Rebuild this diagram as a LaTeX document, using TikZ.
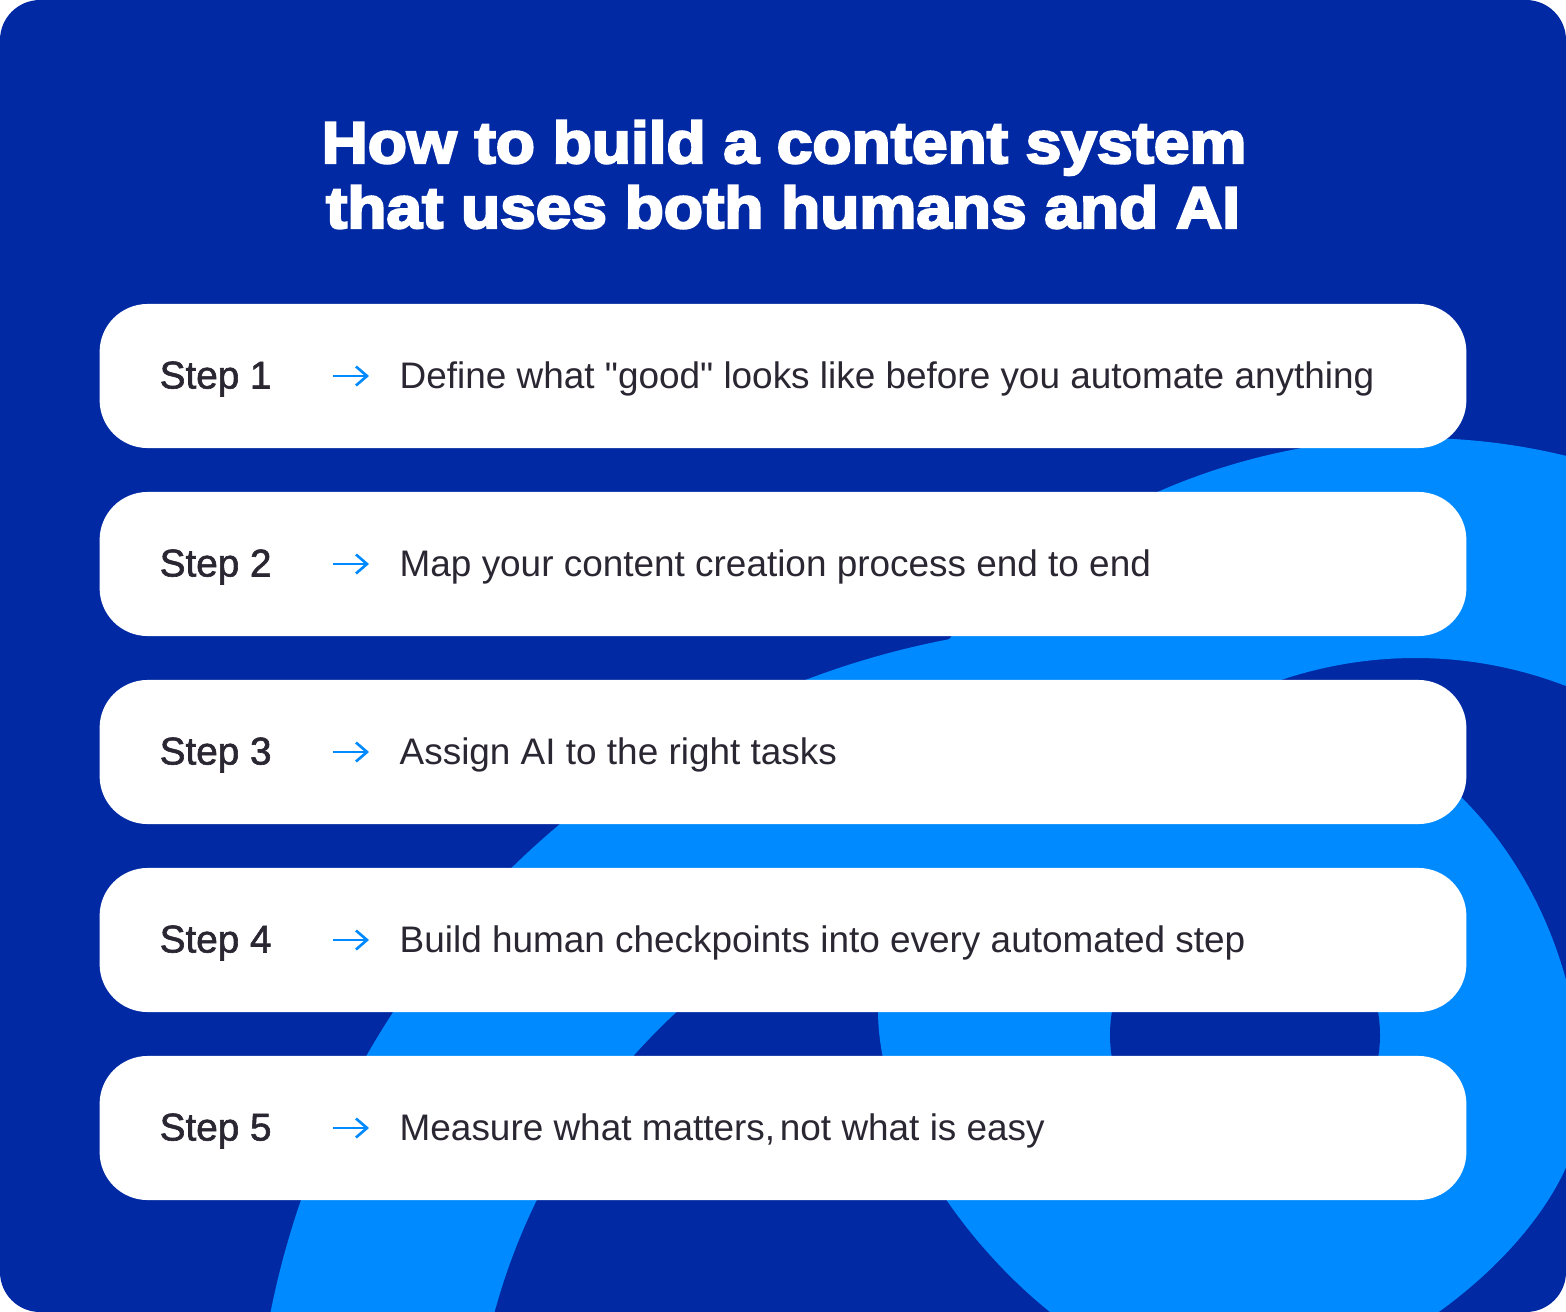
\documentclass[tikz,border=0pt]{standalone}
\usepackage{fontspec}
\setmainfont{Liberation Sans}
\newfontfamily\titlefont[FakeBold=4,FakeStretch=1.09]{Liberation Sans Bold}
\newfontfamily\labelfont[FakeBold=1.6]{Liberation Sans}
\usepackage{tikz}
\usetikzlibrary{arrows.meta}
\usepackage{xcolor}
\definecolor{navy}{RGB}{0,41,163}
\definecolor{sky}{RGB}{0,138,255}
\definecolor{ink}{RGB}{42,38,50}

\tikzset{
    stepbox/.style={fill=white, rounded corners=0.48cm, minimum width=13.66cm,
        minimum height=1.44cm, inner sep=0pt},
    steplabel/.style={anchor=base west, inner sep=0pt, text=ink,
        font=\labelfont\fontsize{11}{13}\selectfont},
    stepnote/.style={anchor=base west, inner sep=0pt, text=ink,
        font=\fontsize{10.5}{12.5}\selectfont},
    steparrow/.style={draw=sky, line width=0.75pt,
        -{Straight Barb[length=1.1mm,width=1.9mm]}},
    titletext/.style={anchor=base, inner sep=0pt, text=white,
        font=\titlefont\fontsize{16.7}{20}\selectfont},
    swoosh/.style={draw=sky}
}

\begin{document}
\begin{tikzpicture}[x=0.01cm, y=-0.01cm]
    \useasboundingbox (0,0) rectangle (1566,1312);

    % Backdrop with the swooshes
    \begin{scope}
        \clip[rounded corners=0.4cm] (0,0) rectangle (1566,1312);
        \fill[navy] (0,0) rectangle (1566,1312);
        \coordinate (ringA) at (1110,1480);
        \coordinate (ringB) at (1415,1078);
        \coordinate (ringC) at (1245,1035);
        \draw[swoosh, line width=2.18cm] (ringA) ++(185:747) arc (185:278:747);
        \draw[swoosh, line width=2.2cm] (ringB) ++(214:530) arc (214:370:530);
        \fill[sky] (878,1010) .. controls (878,1180) and (1080,1390) .. (1232,1390)
            .. controls (1380,1390) and (1582,1230) .. (1582,1100)
            .. controls (1582,881) and (1428,702) .. (1240,702)
            .. controls (1041,702) and (878,841) .. cycle;
        \fill[navy] (ringC) circle (135);
    \end{scope}

    % Title
    \node[titletext] (title1) at (784,163) {How to build a content system};
    \node[titletext] (title2) at (783,228) {that uses both humans and AI};

    % Step 1
    \node[stepbox] (box1) at (783,376) {};
    \node[steplabel] (lab1) at (159,388.5) {Step 1};
    \coordinate (a1s) at (333,376);
    \coordinate (a1e) at (369,376);
    \draw[steparrow] (a1s) -- (a1e);
    \node[stepnote] (txt1) at (399,388.5) {Define what \textquotedbl good\textquotedbl\ looks like before you automate anything};

    % Step 2
    \node[stepbox] (box2) at (783,564) {};
    \node[steplabel] (lab2) at (159,576.5) {Step 2};
    \coordinate (a2s) at (333,564);
    \coordinate (a2e) at (369,564);
    \draw[steparrow] (a2s) -- (a2e);
    \node[stepnote] (txt2) at (399,576.5) {Map your content creation process end to end};

    % Step 3
    \node[stepbox] (box3) at (783,752) {};
    \node[steplabel] (lab3) at (159,764.5) {Step 3};
    \coordinate (a3s) at (333,752);
    \coordinate (a3e) at (369,752);
    \draw[steparrow] (a3s) -- (a3e);
    \node[stepnote] (txt3) at (399,764.5) {Assign AI to the right tasks};

    % Step 4
    \node[stepbox] (box4) at (783,940) {};
    \node[steplabel] (lab4) at (159,952.5) {Step 4};
    \coordinate (a4s) at (333,940);
    \coordinate (a4e) at (369,940);
    \draw[steparrow] (a4s) -- (a4e);
    \node[stepnote] (txt4) at (399,952.5) {Build human checkpoints into every automated step};

    % Step 5
    \node[stepbox] (box5) at (783,1128) {};
    \node[steplabel] (lab5) at (159,1140.5) {Step 5};
    \coordinate (a5s) at (333,1128);
    \coordinate (a5e) at (369,1128);
    \draw[steparrow] (a5s) -- (a5e);
    \node[stepnote] (txt5) at (399,1140.5) {Measure what matters,\kern-0.15em{} not what is easy};
\end{tikzpicture}
\end{document}
